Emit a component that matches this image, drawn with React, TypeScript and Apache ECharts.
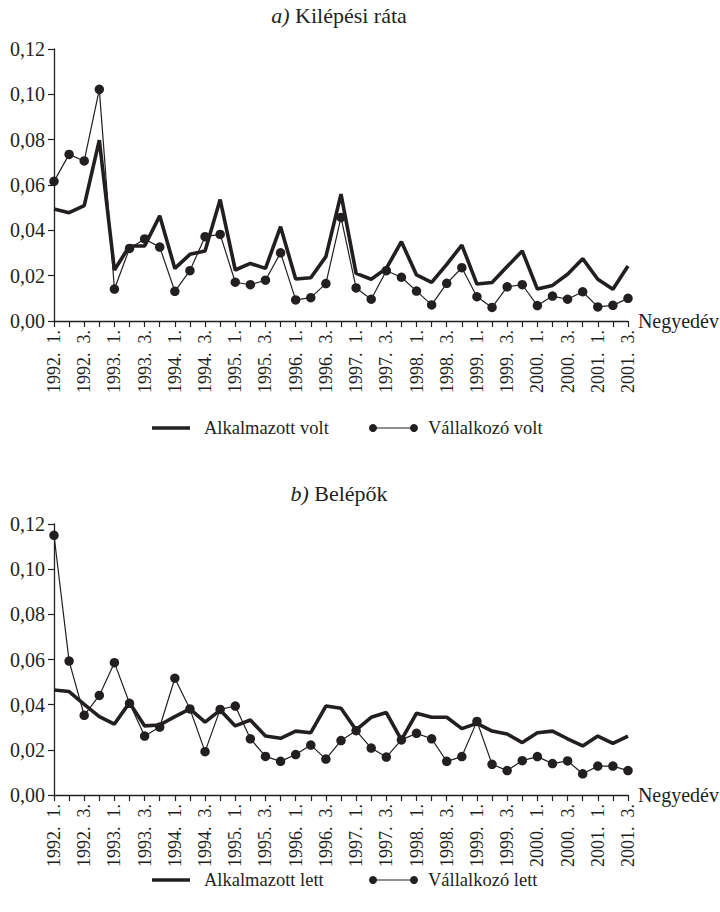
import React, { useEffect, useRef } from "react";
import * as echarts from "echarts";

const quarters: string[] = [
  "1992. 1.", "1992. 2.", "1992. 3.", "1992. 4.",
  "1993. 1.", "1993. 2.", "1993. 3.", "1993. 4.",
  "1994. 1.", "1994. 2.", "1994. 3.", "1994. 4.",
  "1995. 1.", "1995. 2.", "1995. 3.", "1995. 4.",
  "1996. 1.", "1996. 2.", "1996. 3.", "1996. 4.",
  "1997. 1.", "1997. 2.", "1997. 3.", "1997. 4.",
  "1998. 1.", "1998. 2.", "1998. 3.", "1998. 4.",
  "1999. 1.", "1999. 2.", "1999. 3.", "1999. 4.",
  "2000. 1.", "2000. 2.", "2000. 3.", "2000. 4.",
  "2001. 1.", "2001. 2.", "2001. 3.",
];

const alkalmazottVolt: number[] = [
  0.0494, 0.0478, 0.0509, 0.0798, 0.0225, 0.0331, 0.0331, 0.0464, 0.0232, 0.0294,
  0.0309, 0.0536, 0.0225, 0.0254, 0.0232, 0.0416, 0.0185, 0.0191, 0.0284, 0.056,
  0.021, 0.0184, 0.0232, 0.035, 0.0203, 0.017, 0.025, 0.0335, 0.0163, 0.017,
  0.024, 0.0309, 0.0141, 0.0157, 0.0206, 0.0275, 0.0184, 0.014, 0.0243,
];

const vallalkozoVolt: number[] = [
  0.0616, 0.0735, 0.0706, 0.1022, 0.0141, 0.032, 0.0362, 0.0326, 0.0131, 0.0222,
  0.0372, 0.0382, 0.0171, 0.016, 0.018, 0.0301, 0.0093, 0.0103, 0.0165, 0.0457,
  0.0146, 0.0096, 0.0222, 0.0193, 0.0132, 0.0071, 0.0166, 0.0235, 0.0107, 0.006,
  0.0151, 0.016, 0.0068, 0.011, 0.0096, 0.0129, 0.0062, 0.0069, 0.01,
];

const alkalmazottLett: number[] = [
  0.0465, 0.0458, 0.0401, 0.0347, 0.0314, 0.0409, 0.0306, 0.031, 0.0347, 0.0381,
  0.0323, 0.0376, 0.0306, 0.0332, 0.0261, 0.0251, 0.0283, 0.0276, 0.0394, 0.0384,
  0.0288, 0.0344, 0.0365, 0.0244, 0.0362, 0.0344, 0.0344, 0.0294, 0.0317, 0.0283,
  0.027, 0.0232, 0.0276, 0.0283, 0.0249, 0.0217, 0.0261, 0.0229, 0.0261,
];

const vallalkozoLett: number[] = [
  0.115, 0.0593, 0.0353, 0.0441, 0.0586, 0.0406, 0.0261, 0.0301, 0.0517, 0.0381,
  0.0192, 0.0379, 0.0394, 0.0249, 0.0171, 0.0149, 0.0179, 0.0221, 0.0159, 0.0241,
  0.0285, 0.0208, 0.0168, 0.0244, 0.0273, 0.0249, 0.0149, 0.017, 0.0326, 0.0136,
  0.0108, 0.0152, 0.017, 0.0139, 0.0151, 0.0094, 0.0128, 0.0128, 0.0108,
];

const FONT = "Liberation Serif, Times New Roman, serif";
const INK = "#231f20";

export default function App() {
  const ref = useRef<HTMLDivElement>(null);

  useEffect(() => {
    if (!ref.current) return;
    const chart = echarts.init(ref.current, undefined, { renderer: "svg" });

    const xAxisBase = (gridIndex: number) => ({
      type: "category" as const,
      gridIndex,
      data: quarters,
      boundaryGap: false,
      name: "Negyedév",
      nameLocation: "end" as const,
      nameGap: 7,
      nameTextStyle: { fontFamily: FONT, fontSize: 20, color: INK, verticalAlign: "middle" },
      axisLine: { lineStyle: { color: INK, width: 1.3 } },
      axisTick: { show: true, interval: 0, length: 6, inside: false, lineStyle: { color: INK, width: 1.2 } },
      axisLabel: {
        interval: 1,
        rotate: 90,
        margin: 9,
        fontFamily: FONT,
        fontSize: 18,
        color: INK,
        formatter: (v: string) => v.replace(". ", ".\u00A0\u00A0"),
      },
      splitLine: { show: false },
    });

    const yAxisBase = (gridIndex: number) => ({
      type: "value" as const,
      gridIndex,
      min: 0,
      max: 0.12,
      interval: 0.02,
      axisLine: { show: true, lineStyle: { color: INK, width: 1.3 } },
      axisTick: { show: true, length: 6, lineStyle: { color: INK, width: 1.2 } },
      axisLabel: {
        margin: 9,
        fontFamily: FONT,
        fontSize: 20,
        color: INK,
        formatter: (v: number) => v.toFixed(2).replace(".", ","),
      },
      splitLine: { show: false },
    });

    const thick = (name: string, data: number[], idx: number) => ({
      name,
      type: "line" as const,
      xAxisIndex: idx,
      yAxisIndex: idx,
      data,
      showSymbol: false,
      symbol: "none",
      lineStyle: { color: INK, width: 3.6 },
      itemStyle: { color: INK },
      z: 2,
    });

    const dotted = (name: string, data: number[], idx: number) => ({
      name,
      type: "line" as const,
      xAxisIndex: idx,
      yAxisIndex: idx,
      data,
      symbol: "circle",
      symbolSize: 9.5,
      lineStyle: { color: INK, width: 1.2 },
      itemStyle: { color: INK },
      z: 3,
    });

    const titleText = (y: number, pre: string, main: string) => ({
      type: "text",
      x: 339,
      y,
      style: {
        text: `{i|${pre}} ${main}`,
        fontFamily: FONT,
        fontSize: 22,
        fill: INK,
        align: "center",
        verticalAlign: "middle",
        rich: { i: { fontFamily: FONT, fontSize: 22, fontStyle: "italic", fill: INK } },
      },
    });

    const legendItem = (y: number, label1: string, label2: string) => [
      {
        type: "line",
        shape: { x1: 152, y1: y, x2: 190, y2: y },
        style: { stroke: INK, lineWidth: 3.6 },
      },
      {
        type: "text",
        x: 204,
        y,
        style: { text: label1, fontFamily: FONT, fontSize: 18.5, fill: INK, verticalAlign: "middle" },
      },
      {
        type: "line",
        shape: { x1: 373, y1: y, x2: 414, y2: y },
        style: { stroke: INK, lineWidth: 1.2 },
      },
      { type: "circle", shape: { cx: 373, cy: y, r: 4 }, style: { fill: INK } },
      { type: "circle", shape: { cx: 414, cy: y, r: 4 }, style: { fill: INK } },
      {
        type: "text",
        x: 428,
        y,
        style: { text: label2, fontFamily: FONT, fontSize: 18.5, fill: INK, verticalAlign: "middle" },
      },
    ];

    chart.setOption({
      animation: false,
      backgroundColor: "#ffffff",
      grid: [
        { left: 54, top: 49, width: 574, height: 272, containLabel: false },
        { left: 54, top: 524, width: 574, height: 271, containLabel: false },
      ],
      xAxis: [xAxisBase(0), xAxisBase(1)],
      yAxis: [yAxisBase(0), yAxisBase(1)],
      series: [
        thick("Alkalmazott volt", alkalmazottVolt, 0),
        dotted("Vállalkozó volt", vallalkozoVolt, 0),
        thick("Alkalmazott lett", alkalmazottLett, 1),
        dotted("Vállalkozó lett", vallalkozoLett, 1),
      ],
      graphic: [
        titleText(15, "a)", "Kilépési ráta"),
        titleText(493, "b)", "Belépők"),
        ...legendItem(428, "Alkalmazott volt", "Vállalkozó volt"),
        ...legendItem(880, "Alkalmazott lett", "Vállalkozó lett"),
      ],
    });

    return () => chart.dispose();
  }, []);

  return (
    <div
      ref={ref}
      style={{ position: "absolute", left: 0, top: 0, width: 720, height: 912, background: "#fff" }}
    />
  );
}
